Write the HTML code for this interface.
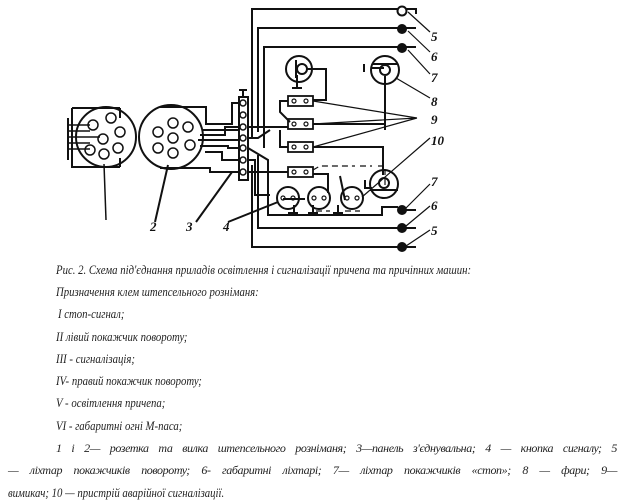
<!DOCTYPE html>
<html><head><meta charset="utf-8"><style>
body{margin:0;background:#fff;width:622px;height:500px;overflow:hidden;position:relative}
svg{position:absolute;left:0;top:0}
.t{position:absolute;font-family:"Liberation Serif",serif;font-style:italic;font-size:12.5px;color:#222;white-space:nowrap;transform:scaleX(0.86);transform-origin:0 0}
.l{position:absolute;font-family:"Liberation Serif",serif;font-style:italic;font-size:12px;color:#222;white-space:nowrap;text-align:justify;text-align-last:justify;letter-spacing:-0.4px}
</style></head><body>
<svg width="622" height="260" viewBox="0 0 622 260" fill="none" stroke="#111" stroke-width="2">
<path d="M68 118 V160 M72 108 H120 M72 108 V167 H120 M120 108 V118 M120 167 V158"/>
<path d="M68 125 H90 M68 131 H90 M68 137 H100 M68 143 H90 M68 149 H90" stroke-width="1.5"/>
<circle cx="106" cy="137" r="30"/>
<g stroke-width="1.5"><circle cx="93" cy="125" r="5"/><circle cx="111" cy="118" r="5"/><circle cx="120" cy="132" r="5"/><circle cx="103" cy="139" r="5"/><circle cx="90" cy="150" r="5"/><circle cx="118" cy="148" r="5"/><circle cx="104" cy="154" r="5"/></g>
<path d="M104 164 L106 220" stroke-width="1.5"/>
<circle cx="171" cy="137" r="32"/>
<g stroke-width="1.5"><circle cx="158" cy="132" r="5"/><circle cx="173" cy="123" r="5"/><circle cx="188" cy="127" r="5"/><circle cx="173" cy="138" r="5"/><circle cx="158" cy="148" r="5"/><circle cx="190" cy="145" r="5"/><circle cx="173" cy="153" r="5"/></g>
<path d="M160 107 H206 V124 H232 V103 H240 M202 130 H240 M200 135 H225 V127 H240 M198 140 H240 M200 146 H228 V148 H240 M205 152 H222 V160 H240 M160 168 H210 V172 H240"/>
<path d="M168 165 L155 222"/>
<rect x="239" y="97" width="9" height="83"/>
<path d="M243 97 V90 M239 90 H247"/>
<g fill="#fff" stroke-width="1.5"><circle cx="243" cy="103" r="3"/><circle cx="243" cy="115" r="3"/><circle cx="243" cy="127" r="3"/><circle cx="243" cy="138" r="3"/><circle cx="243" cy="148" r="3"/><circle cx="243" cy="160" r="3"/><circle cx="243" cy="172" r="3"/></g>
<path d="M232 172 L196 222 M278 202 L228 222"/>
<path d="M252 138 V9 H400 M405 9 H416 V14"/>
<path d="M258 132 V28 H398 M406 28 H416"/>
<path d="M264 148 V47 H398 M406 47 H416"/>
<path d="M248 127 H288 M248 138 H258 L270 130 M248 148 L268 160 V215 H382 V207 H398 M406 210 H416"/>
<path d="M258 155 V228 H398 M406 228 H416"/>
<path d="M252 165 V247 H398 M406 247 H416"/>
<path d="M248 172 H288 M248 160 H255 V195 H270 M283 199 H305"/>
<circle cx="299" cy="69" r="13"/><circle cx="302" cy="69" r="5"/><path d="M296 60 V78 M297 75 V88 M292 88 H302 M307 69 H326 V100 H313"/>
<circle cx="385" cy="70" r="14"/><path d="M371 68 H384 M364 64 V72 M372 64 H398"/><circle cx="385" cy="70" r="5"/><path d="M385 76 V130"/>
<g stroke-width="1.8"><rect x="288" y="96" width="25" height="10"/><rect x="288" y="119" width="25" height="10"/><rect x="288" y="142" width="25" height="10"/><rect x="288" y="167" width="25" height="10"/></g>
<g stroke-width="1.2"><circle cx="294" cy="101" r="2"/><circle cx="306" cy="101" r="2"/><circle cx="294" cy="124" r="2"/><circle cx="306" cy="124" r="2"/><circle cx="294" cy="147" r="2"/><circle cx="306" cy="147" r="2"/><circle cx="294" cy="172" r="2"/><circle cx="306" cy="172" r="2"/></g>
<path d="M288 101 H280 V112 L290 122 M280 130 V147 H288 M313 124 H385 M313 147 H383 V175" />
<path d="M313 101 L417 118 M313 124 L417 118 M313 147 L417 118" stroke-width="1.2"/>
<path d="M313 170 L320 166 H355 M360 166 H372 M378 166 H385 V190 M316 211 H330 M345 211 H360" stroke-dasharray="6 4" stroke-width="1.2"/>
<circle cx="288" cy="198" r="11"/><circle cx="319" cy="198" r="11"/><circle cx="352" cy="198" r="11"/>
<g stroke-width="1.2"><circle cx="283" cy="198" r="2"/><circle cx="293" cy="198" r="2"/><circle cx="314" cy="198" r="2"/><circle cx="324" cy="198" r="2"/><circle cx="347" cy="198" r="2"/><circle cx="357" cy="198" r="2"/></g>
<path d="M294 205 V213 M288 213 H298 M313 205 V213 M308 213 H318 M338 205 V213 M333 213 H343 M345 200 L340 176 M313 174 H328 V193"/>
<circle cx="384" cy="184" r="14"/><circle cx="384" cy="183" r="5"/><path d="M370 190 H398 M365 180 V188 H372"/>
<g fill="#111" stroke="none"><circle cx="402" cy="29" r="5"/><circle cx="402" cy="48" r="5"/><circle cx="402" cy="210" r="5"/><circle cx="402" cy="228" r="5"/><circle cx="402" cy="247" r="5"/></g>
<circle cx="402" cy="11" r="4.5" fill="#fff"/>
<g stroke-width="1.2"><path d="M408 12 L430 32 M408 31 L430 52 M408 50 L430 74 M396 78 L430 98 M362 197 L430 138 M406 208 L430 184 M406 226 L430 206 M406 246 L430 230"/></g>
<g font-family="Liberation Serif,serif" font-style="italic" font-weight="bold" font-size="13" fill="#111" stroke="none">
<text x="431" y="41">5</text><text x="431" y="61">6</text><text x="431" y="82">7</text><text x="431" y="106">8</text><text x="431" y="124">9</text><text x="431" y="145">10</text><text x="431" y="186">7</text><text x="431" y="210">6</text><text x="431" y="235">5</text>
<text x="150" y="231">2</text><text x="186" y="231">3</text><text x="223" y="231">4</text></g>
</svg>
<div class="t" style="left:56px;top:263px">Рис. 2. Схема під'єднання приладів освітлення і сигналізації причепа та причіпних машин:</div>
<div class="t" style="left:56px;top:285px">Призначення клем штепсельного розніманя:</div>
<div class="t" style="left:58px;top:307px">I стоп-сигнал;</div>
<div class="t" style="left:56px;top:330px">II лівий покажчик повороту;</div>
<div class="t" style="left:56px;top:352px">III - сигналізація;</div>
<div class="t" style="left:56px;top:374px">IV- правий покажчик повороту;</div>
<div class="t" style="left:56px;top:396px">V - освітлення причепа;</div>
<div class="t" style="left:56px;top:419px">VI - габаритні огні М-паса;</div>
<div class="l" style="left:56px;width:561px;top:441px">1 і 2— розетка та вилка штепсельного розніманя; 3—панель з'єднувальна; 4 — кнопка сигналу; 5</div>
<div class="l" style="left:8px;width:609px;top:463px">— ліхтар покажчиків повороту; 6- габаритні ліхтарі; 7— ліхтар покажчиків «стоп»; 8 — фари; 9—</div>
<div class="t" style="left:8px;top:486px">вимикач; 10 — пристрій аварійної сигналізації.</div>
</body></html>
